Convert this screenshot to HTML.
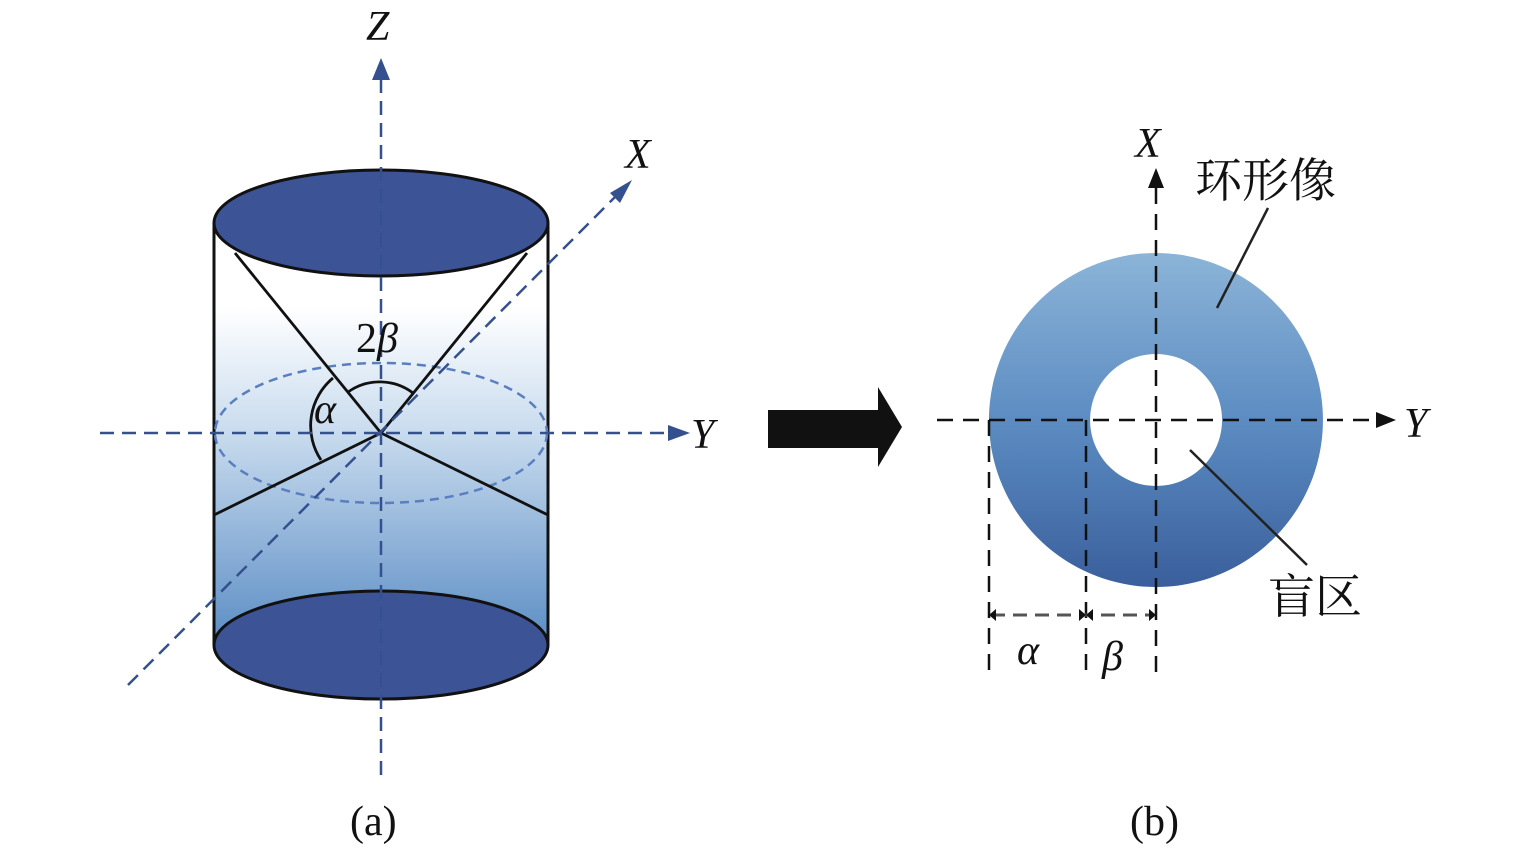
<!DOCTYPE html>
<html><head><meta charset="utf-8"><style>html,body{margin:0;padding:0;background:#fff;}svg{display:block}</style></head>
<body>
<svg width="1535" height="848" viewBox="0 0 1535 848" xmlns="http://www.w3.org/2000/svg">
<defs>
<linearGradient id="cyl" x1="0" y1="0" x2="0" y2="1">
<stop offset="0" stop-color="#ffffff"/>
<stop offset="0.2" stop-color="#ffffff"/>
<stop offset="0.5" stop-color="#c8dbee"/>
<stop offset="1" stop-color="#5a8cc4"/>
</linearGradient>
<linearGradient id="ring" x1="0" y1="0" x2="0" y2="1">
<stop offset="0" stop-color="#8cb4d8"/>
<stop offset="0.5" stop-color="#5c8cc2"/>
<stop offset="1" stop-color="#3a5f9c"/>
</linearGradient>
</defs>
<rect x="214" y="223" width="334" height="422" fill="url(#cyl)"/>
<line x1="214" y1="223" x2="214" y2="645" stroke="#111" stroke-width="3"/>
<line x1="548" y1="223" x2="548" y2="645" stroke="#111" stroke-width="3"/>
<ellipse cx="381" cy="433" rx="166" ry="70" fill="none" stroke="#5a7fc0" stroke-width="2.5" stroke-dasharray="9,6"/>
<polyline points="235,253 381,433 548,515" fill="none" stroke="#111" stroke-width="2.8"/>
<polyline points="527,253 381,433 214,515" fill="none" stroke="#111" stroke-width="2.8"/>
<path d="M321,460 A62,62 0 0 1 333,378" fill="none" stroke="#111" stroke-width="2.8"/>
<path d="M348,392 A55,55 0 0 1 413,393" fill="none" stroke="#111" stroke-width="2.8"/>
<ellipse cx="381" cy="223" rx="167" ry="53" fill="#3c5496" stroke="#111" stroke-width="3"/>
<ellipse cx="381" cy="645" rx="167" ry="54" fill="#3c5496" stroke="#111" stroke-width="3"/>
<g stroke="#34508f" stroke-width="2.5" fill="none" stroke-dasharray="14,8">
<line x1="381" y1="775" x2="381" y2="78"/>
<line x1="100" y1="433" x2="672" y2="433"/>
<line x1="128" y1="685" x2="620" y2="192"/>
</g>
<polygon points="381,58 372,80 390,80" fill="#34508f"/>
<polygon points="690,433 668,425 668,441" fill="#34508f"/>
<polygon points="632,180 610,193 620,203" fill="#34508f"/>
<g font-family="Liberation Serif, serif" font-style="italic" fill="#111">
<text x="366" y="40" font-size="42">Z</text>
<text x="625" y="168" font-size="42">X</text>
<text x="691" y="448" font-size="42">Y</text>
<text x="314" y="423" font-size="42">α</text>
</g>
<text x="356" y="352" font-family="Liberation Serif, serif" font-size="42" fill="#111">2<tspan font-style="italic">β</tspan></text>
<text x="350" y="835" font-family="Liberation Serif, serif" font-size="42" fill="#111">(a)</text>
<polygon points="768,410 878,410 878,387 902,427 878,467 878,448 768,448" fill="#111"/>
<path d="M1156,253 A167,167 0 1 1 1155.9,253 Z M1156,354 A66,66 0 1 0 1156.1,354 Z" fill="url(#ring)" fill-rule="evenodd"/>
<g stroke="#111" stroke-width="2.5" fill="none" stroke-dasharray="16,10">
<line x1="1156" y1="672" x2="1156" y2="188"/>
<line x1="937" y1="420" x2="1380" y2="420"/>
<line x1="989" y1="420" x2="989" y2="672"/>
<line x1="1086" y1="420" x2="1086" y2="672"/>
</g>
<g stroke="#555" stroke-width="3" stroke-dasharray="14,8"><line x1="991" y1="615" x2="1154" y2="615"/></g>
<g fill="#111">
<polygon points="1156,168 1148,188 1164,188"/>
<polygon points="1396,420 1376,412 1376,428"/>
<polygon points="989,615 996,609 996,621"/>
<polygon points="1086,615 1079,609 1079,621"/>
<polygon points="1086,615 1093,609 1093,621"/>
<polygon points="1156,615 1149,609 1149,621"/>
</g>
<line x1="1268" y1="208" x2="1217" y2="308" stroke="#222" stroke-width="2.5"/>
<line x1="1190" y1="450" x2="1307" y2="565" stroke="#222" stroke-width="2.5"/>
<g font-family="Liberation Serif, serif" font-style="italic" fill="#111">
<text x="1135" y="157" font-size="42">X</text>
<text x="1404" y="437" font-size="42">Y</text>
<text x="1017" y="664" font-size="42">α</text>
<text x="1102" y="670" font-size="42">β</text>
</g>
<text x="1195" y="197" font-family="Liberation Serif, 'Noto Serif CJK SC', serif" font-size="47" fill="#111">环形像</text>
<text x="1268" y="613" font-family="Liberation Serif, 'Noto Serif CJK SC', serif" font-size="47" fill="#111">盲区</text>
<text x="1130" y="835" font-family="Liberation Serif, serif" font-size="42" fill="#111">(b)</text>
</svg>
</body></html>
